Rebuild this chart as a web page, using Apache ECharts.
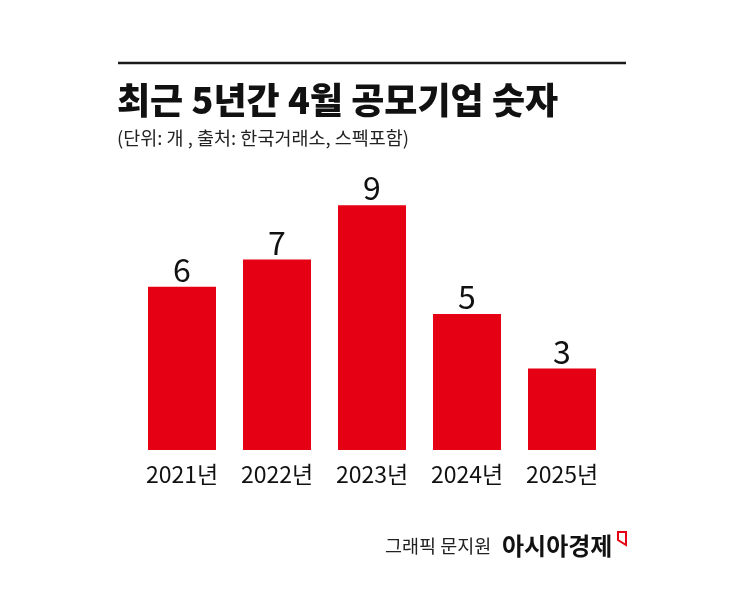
<!DOCTYPE html>
<html><head><meta charset="utf-8">
<script src="https://cdn.jsdelivr.net/npm/echarts@6/dist/echarts.min.js"></script>
<style>html,body{margin:0;padding:0;background:#fff}#c{width:745px;height:596px}</style>
</head><body><div id="c"></div>
<script>
const categories = ['2021년', '2022년', '2023년', '2024년', '2025년'];
const values = [6, 7, 9, 5, 3];
const titleText = '최근 5년간 4월 공모기업 숫자';
const subtitleText = '(단위: 개 , 출처: 한국거래소, 스펙포함)';
const creditText = '그래픽 문지원';
const brandText = '아시아경제';

const FONT = '"Noto Sans CJK KR", "Noto Sans", sans-serif';
const chart = echarts.init(document.getElementById('c'));
chart.setOption({
  backgroundColor: '#fff',
  animation: false,
  grid: { left: 134.5, right: 135.5, top: 178, bottom: 146 },
  xAxis: {
    type: 'category', data: categories,
    axisLine: { show: false }, axisTick: { show: false },
    axisLabel: { interval: 0, color: '#111', fontSize: 23, fontFamily: FONT, margin: 13 }
  },
  yAxis: { type: 'value', min: 0, max: 10, show: false, splitLine: { show: false } },
  series: [{
    type: 'bar', data: values, barWidth: 68,
    itemStyle: { color: '#e50013' },
    label: { show: true, position: 'top', distance: 1, color: '#111', fontSize: 32, fontFamily: FONT }
  }],
  graphic: [
    { type: 'line', shape: { x1: 118, y1: 63, x2: 626, y2: 63 }, style: { stroke: '#1a1a1a', lineWidth: 2.5 } },
    { type: 'text', style: { text: titleText, x: 117, y: 100, font: '900 36px ' + FONT, fill: '#111', textVerticalAlign: 'middle' } },
    { type: 'text', style: { text: subtitleText, x: 117, y: 138, font: '18.5px ' + FONT, fill: '#222', textVerticalAlign: 'middle' } },
    { type: 'text', style: { text: creditText, x: 385, y: 546, font: '18.5px ' + FONT, fill: '#222', textVerticalAlign: 'middle' } },
    { type: 'text', style: { text: brandText, x: 502, y: 546, font: 'bold 24px ' + FONT, fill: '#111', textVerticalAlign: 'middle' } },
    { type: 'polygon', shape: { points: [[618, 532], [626, 532], [626, 545], [618, 540]] }, style: { stroke: '#e50013', lineWidth: 2, fill: 'none' } }
  ]
});
</script></body></html>
